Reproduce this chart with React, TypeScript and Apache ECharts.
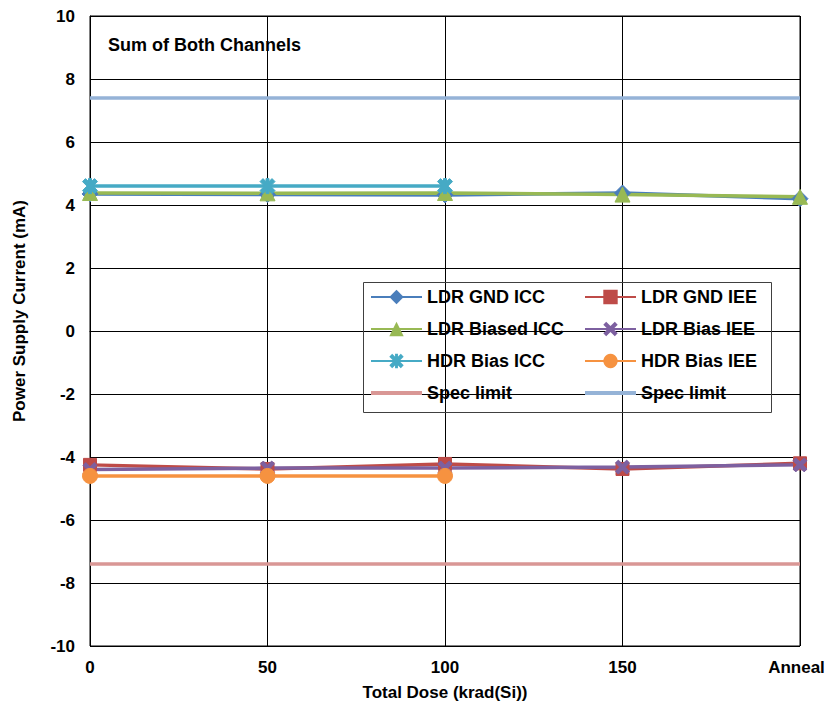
import React, { useEffect, useRef } from "react";
import * as echarts from "echarts";

const categories = ["0", "50", "100", "150", "Anneal"];
const ldrGndIcc = [4.35, 4.33, 4.32, 4.38, 4.2];
const ldrGndIee = [-4.25, -4.38, -4.22, -4.38, -4.2];
const ldrBiasedIcc = [4.38, 4.37, 4.38, 4.33, 4.26];
const ldrBiasIee = [-4.4, -4.35, -4.35, -4.32, -4.25];
const hdrBiasIcc = [4.6, 4.6, 4.6, null, null];
const hdrBiasIee = [-4.6, -4.6, -4.6, null, null];
const specLimitLow = [-7.4, -7.4, -7.4, -7.4, -7.4];
const specLimitHigh = [7.4, 7.4, 7.4, 7.4, 7.4];

const FONT = "'Liberation Sans', Arial, sans-serif";
const X_PATH =
  "path://M0,2 L2,0 L5,3 L8,0 L10,2 L7,5 L10,8 L8,10 L5,7 L2,10 L0,8 L3,5 Z";
const STAR_PATH =
  "path://M0,2 L2,0 L5,3 L8,0 L10,2 L7,5 L10,8 L8,10 L5,7 L2,10 L0,8 L3,5 Z M4,0 L6,0 L6,10 L4,10 Z";
const LINE_ICON =
  "path://M0,0 L0,18 Z M0,7 L51,7 L51,11 L0,11 Z";

export default function App() {
  const ref = useRef<HTMLDivElement>(null);
  useEffect(() => {
    if (!ref.current) return;
    document.body.style.margin = "0";
    const chart = echarts.init(ref.current, undefined, { renderer: "svg" });
    const mk = (
      name: string,
      data: (number | null)[],
      color: string,
      symbol: string,
      symbolSize: number
    ) => ({
      name,
      type: "line",
      data,
      symbol,
      symbolSize,
      showSymbol: symbol !== "none",
      connectNulls: false,
      lineStyle: { color, width: 3.5 },
      itemStyle: { color, borderColor: color },
      color,
    });
    const legendText = {
      fontFamily: FONT,
      fontSize: 18,
      fontWeight: "bold",
      color: "#000",
      lineHeight: 20,
    };
    const legendFormatter = (n: string) =>
      n.indexOf("Spec limit") === 0 ? "Spec limit" : n;
    chart.setOption({
      animation: false,
      backgroundColor: "#fff",
      grid: {
        left: 90,
        right: 27,
        top: 16,
        bottom: 67,
        show: true,
        borderColor: "#000",
        borderWidth: 1,
        outerBoundsMode: "none",
      },
      xAxis: {
        type: "category",
        data: categories,
        boundaryGap: false,
        axisLine: { lineStyle: { color: "#000", width: 1 } },
        axisTick: { show: false },
        splitLine: { show: true, lineStyle: { color: "#000", width: 1 } },
        axisLabel: {
          fontFamily: FONT,
          fontSize: 17,
          fontWeight: "bold",
          color: "#000",
          margin: 13,
          interval: 0,
          overflow: "none",
          hideOverlap: false,
          formatter: (v: string) => (v === "Anneal" ? "{a|" + v + "}" : v),
          rich: {
            a: {
              fontFamily: FONT,
              fontSize: 17,
              fontWeight: "bold",
              color: "#000",
              padding: [0, 7, 0, 0],
            },
          },
        },
        name: "Total Dose (krad(Si))",
        nameLocation: "middle",
        nameGap: 38,
        nameTextStyle: {
          fontFamily: FONT,
          fontSize: 17,
          fontWeight: "bold",
          color: "#000",
        },
      },
      yAxis: {
        type: "value",
        min: -10,
        max: 10,
        interval: 2,
        axisLine: { show: true, lineStyle: { color: "#000", width: 1 } },
        axisTick: { show: false },
        splitLine: { show: true, lineStyle: { color: "#000", width: 1 } },
        axisLabel: {
          fontFamily: FONT,
          fontSize: 17,
          fontWeight: "bold",
          color: "#000",
          margin: 15,
        },
        name: "Power Supply Current (mA)",
        nameLocation: "middle",
        nameGap: 62,
        nameTextStyle: {
          fontFamily: FONT,
          fontSize: 17,
          fontWeight: "bold",
          color: "#000",
          padding: [0, 0, 0, 40],
        },
      },
      legend: [
        {
          left: 365,
          top: 282,
          orient: "vertical",
          itemWidth: 51,
          itemHeight: 18,
          itemGap: 12,
          textStyle: legendText,
          formatter: legendFormatter,
          data: [
            "LDR GND ICC",
            "LDR Biased ICC",
            "HDR Bias ICC",
            { name: "Spec limit (low)", icon: LINE_ICON },
          ],
        },
        {
          left: 579,
          top: 282,
          orient: "vertical",
          itemWidth: 51,
          itemHeight: 18,
          itemGap: 12,
          textStyle: legendText,
          formatter: legendFormatter,
          data: [
            "LDR GND IEE",
            "LDR Bias IEE",
            "HDR Bias IEE",
            { name: "Spec limit (high)", icon: LINE_ICON },
          ],
        },
      ],
      graphic: [
        {
          type: "rect",
          left: 361,
          top: 280,
          shape: { width: 408, height: 130 },
          style: { fill: "none", stroke: "#404040", lineWidth: 1 },
          z: 100,
        },
        {
          type: "text",
          left: 108,
          top: 36,
          style: {
            text: "Sum of Both Channels",
            fontFamily: FONT,
            fontSize: 18,
            fontWeight: "bold",
            fill: "#000",
          },
        },
      ],
      series: [
        mk("LDR GND ICC", ldrGndIcc, "#4A7EBB", "diamond", 16),
        mk("LDR GND IEE", ldrGndIee, "#BE4B48", "rect", 13),
        mk("LDR Biased ICC", ldrBiasedIcc, "#98B954", "triangle", 15),
        mk("LDR Bias IEE", ldrBiasIee, "#7D60A0", X_PATH, 14),
        mk("HDR Bias ICC", hdrBiasIcc, "#46AAC5", STAR_PATH, 15),
        mk("HDR Bias IEE", hdrBiasIee, "#F69240", "circle", 15),
        mk("Spec limit (low)", specLimitLow, "#D99795", "none", 0),
        mk("Spec limit (high)", specLimitHigh, "#95B3D7", "none", 0),
      ],
    });
    return () => chart.dispose();
  }, []);
  return <div ref={ref} style={{ width: 827, height: 713 }} />;
}
